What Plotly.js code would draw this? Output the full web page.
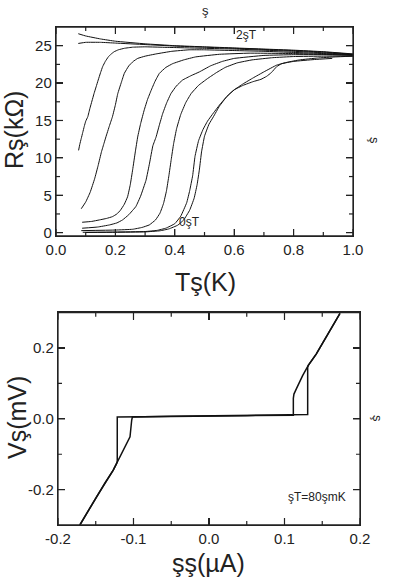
<!DOCTYPE html>
<html>
<head>
<meta charset="utf-8">
<script src="https://cdn.plot.ly/plotly-3.0.1.min.js"></script>
<style>html,body{margin:0;padding:0;background:#fff;overflow:hidden}#top{width:395px;height:300px}#bot{width:395px;height:286px}</style>
</head>
<body>
<div id="top"></div>
<div id="bot"></div>
<script>
// ---- Top panel: R(T) curves at several fields (top = 2 T, rightmost = 0 T) ----
const T_A = [0.075,0.1,0.15,0.2,0.3,0.4,0.5,0.6,0.7,0.8,0.9,1.0];
const R_A = [26.6,26.3,25.9,25.6,25.25,25.0,24.85,24.7,24.55,24.4,24.2,23.9];
const T_B = [0.075,0.1,0.15,0.2,0.3,0.4,0.5,0.6,0.7,0.8,0.9,1.0];
const R_B = [25.3,25.45,25.45,25.35,25.15,24.95,24.8,24.65,24.5,24.35,24.15,23.85];
const T_C = [0.076,0.08,0.085,0.09,0.095,0.1,0.107,0.114,0.121,0.128,0.135,0.142,0.15,0.157,0.166,0.176,0.186,0.196,0.21,0.23,0.258,0.3,0.35,0.4,0.5,0.6,0.7,0.8,0.9,1.0];
const R_C = [11.0,11.8,12.6,13.4,14.2,14.9,15.5,16.6,17.6,18.6,19.5,20.4,21.4,22.2,22.9,23.5,23.9,24.2,24.45,24.65,24.8,24.85,24.8,24.75,24.65,24.55,24.4,24.25,24.05,23.8];
const T_D = [0.085,0.1,0.115,0.13,0.142,0.153,0.162,0.168,0.18,0.19,0.2,0.208,0.22,0.23,0.245,0.26,0.275,0.3,0.337,0.39,0.448,0.5,0.6,0.7,0.8,0.9,1.0];
const R_D = [3.2,4.1,5.4,7.2,9.0,10.8,12.0,12.8,14.3,15.5,17.1,18.6,20.1,21.3,22.3,22.9,23.3,23.6,23.9,24.25,24.45,24.45,24.35,24.25,24.1,23.95,23.8];
const T_E = [0.088,0.12,0.146,0.17,0.19,0.205,0.217,0.23,0.241,0.25,0.258,0.267,0.275,0.285,0.297,0.308,0.32,0.333,0.348,0.37,0.393,0.43,0.47,0.55,0.65,0.8,0.9,1.0];
const R_E = [1.39,1.5,1.7,1.9,2.14,2.5,3.0,3.8,4.8,6.4,8.4,10.8,12.8,14.6,16.4,17.8,19.0,20.2,21.3,22.1,22.6,23.1,23.5,23.85,24.0,23.95,23.85,23.75];
const T_F = [0.088,0.14,0.18,0.205,0.224,0.245,0.269,0.285,0.303,0.315,0.326,0.337,0.348,0.359,0.372,0.387,0.405,0.426,0.455,0.483,0.52,0.56,0.6,0.7,0.8,0.9,1.0];
const R_F = [0.59,0.75,1.03,1.3,1.7,2.4,3.5,4.9,7.0,9.3,11.6,12.8,14.4,15.9,17.3,18.6,19.6,20.4,21.0,21.5,22.3,22.9,23.3,23.7,23.8,23.8,23.7];
const T_G = [0.085,0.2,0.258,0.29,0.314,0.335,0.35,0.362,0.372,0.38,0.388,0.396,0.406,0.42,0.437,0.455,0.48,0.51,0.54,0.57,0.61,0.66,0.73,0.8,0.9,1.0];
const R_G = [0.27,0.35,0.45,0.7,1.03,1.7,2.6,3.9,5.6,7.6,9.8,11.9,13.9,15.8,17.4,18.6,19.7,20.6,21.4,22.1,22.7,23.1,23.4,23.55,23.6,23.6];
const T_H = [0.09,0.2,0.3,0.34,0.37,0.4,0.42,0.44,0.45,0.46,0.468,0.48,0.495,0.51,0.53,0.555,0.58,0.6,0.63,0.664,0.69,0.709,0.725,0.743,0.76,0.8,0.87,0.93];
const R_H = [0.05,0.08,0.15,0.3,0.6,1.2,2.2,4.0,5.6,7.6,10.2,12.3,13.8,14.9,16.0,17.3,18.4,19.1,19.7,20.2,20.5,20.9,21.4,22.2,22.6,22.9,23.15,23.3];
const T_I = [0.1,0.2,0.3,0.35,0.38,0.41,0.43,0.45,0.465,0.475,0.483,0.49,0.5,0.515,0.53,0.55,0.575,0.6,0.63,0.664,0.7,0.743,0.78,0.82,0.88,0.94,1.0];
const R_I = [0.02,0.05,0.1,0.25,0.5,1.0,1.7,3.0,4.6,6.4,8.5,10.8,12.9,14.5,15.5,16.9,18.2,19.1,19.9,20.7,21.5,22.4,22.8,23.1,23.35,23.5,23.6];

// ---- Bottom panel: V(I) at T = 80 mK ----
const I_up = [-0.171,-0.16,-0.1487,-0.138,-0.1268,-0.1223,-0.1135,-0.1046,-0.1024,-0.1015,-0.05,0.0,0.05,0.1,0.1307,0.1307,0.1315,0.142,0.1514,0.162,0.1735];
const V_up = [-0.3,-0.26,-0.22,-0.182,-0.145,-0.126,-0.093,-0.051,-0.004,0.005,0.007,0.008,0.009,0.011,0.012,0.146,0.151,0.183,0.217,0.255,0.298];
const I_down = [0.1735,0.162,0.1514,0.142,0.1315,0.124,0.116,0.1125,0.1117,0.1117,0.05,0.0,-0.05,-0.1,-0.1215,-0.1215,-0.1223,-0.1268,-0.138,-0.1487,-0.16,-0.171];
const V_down = [0.298,0.255,0.217,0.183,0.151,0.122,0.086,0.07,0.058,0.01,0.009,0.008,0.007,0.006,0.005,-0.12,-0.126,-0.145,-0.182,-0.22,-0.26,-0.3];

// tick positions and labels (hyphen minus as in the original)
const xTicksTop = [0,0.2,0.4,0.6,0.8,1.0];
const xTickTextTop = ['0.0','0.2','0.4','0.6','0.8','1.0'];
const xMinorTop = [0.1,0.3,0.5,0.7,0.9];
const yTicksTop = [0,5,10,15,20,25];
const yTickTextTop = ['0','5','10','15','20','25'];
const yMinorTop = [2.5,7.5,12.5,17.5,22.5];
const xTicksBot = [-0.2,-0.1,0,0.1,0.2];
const xTickTextBot = ['-0.2','-0.1','0.0','0.1','0.2'];
const xMinorBot = [-0.15,-0.05,0.05,0.15];
const yTicksBot = [-0.2,0,0.2];
const yTickTextBot = ['-0.2','0.0','0.2'];
const yMinorBot = [-0.1,0.1];

const topCurves = [[T_A,R_A],[T_B,R_B],[T_C,R_C],[T_D,R_D],[T_E,R_E],[T_F,R_F],[T_G,R_G],[T_H,R_H],[T_I,R_I]];

const FONT = 'Liberation Sans, Arial, Helvetica, sans-serif';
const INK = '#222';
const small = {family:FONT, size:12, color:INK};
const big = {family:FONT, size:25, color:INK};
const tiny = {family:FONT, size:13, color:INK};

function ax(extra){
  return Object.assign({
    showgrid:false, zeroline:false, showline:true, linecolor:INK, linewidth:1.2, mirror:'ticks',
    ticks:'inside', ticklen:7, tickwidth:1.2, tickcolor:INK,
    tickfont:{family:FONT, size:15, color:INK}
  }, extra);
}

// Box frame and inward tick marks on all four sides, derived from axis ranges,
// domains and tick arrays (axis decoration, converted from pixels to axis units)
function decorTraces(xr, yr, xd, yd, W, H, xMaj, xMin, yMaj, yMin){
  const ux = (xr[1]-xr[0]) / ((xd[1]-xd[0]) * W);   // axis units per pixel (x)
  const uy = (yr[1]-yr[0]) / ((yd[1]-yd[0]) * H);   // axis units per pixel (y)
  const fx = [], fy = [];
  const addX = (vals, len) => vals.forEach(v => {
    fx.push(v, v, null, v, v, null);
    fy.push(yr[0], yr[0] + len*uy, null, yr[1], yr[1] - len*uy, null);
  });
  const addY = (vals, len) => vals.forEach(v => {
    fx.push(xr[0], xr[0] + len*ux, null, xr[1], xr[1] - len*ux, null);
    fy.push(v, v, null, v, v, null);
  });
  addX(xMaj, 7); addX(xMin, 4); addY(yMaj, 7); addY(yMin, 4);
  const common = {type:'scatter', mode:'lines', hoverinfo:'skip', showlegend:false, cliponaxis:false};
  return [
    Object.assign({x:[xr[0],xr[1],xr[1],xr[0],xr[0]], y:[yr[0],yr[0],yr[1],yr[1],yr[0]], line:{color:INK, width:1.3}}, common),
    Object.assign({x:fx, y:fy, connectgaps:false, line:{color:INK, width:1.2}}, common)
  ];
}

const cfg = {staticPlot:true, displayModeBar:false};
const W = 395;

// ---------- top figure (395 x 300) ----------
const H1 = 300;
const domTop = {x:[0.1418,0.8937], y:[0.2133,0.91]};
const rangeTop = {x:[0,1], y:[-0.45,27.5]};
const topTraces = topCurves.map(c => ({x:c[0], y:c[1], type:'scatter', mode:'lines', line:{color:'#111', width:1, shape:'spline', smoothing:0.3}}))
  .concat(decorTraces(rangeTop.x, rangeTop.y, domTop.x, domTop.y, W, H1, xTicksTop, xMinorTop, yTicksTop, yMinorTop));
const topLayout = {
  width:W, height:H1, margin:{l:0,r:0,t:0,b:0}, showlegend:false,
  paper_bgcolor:'#fff', plot_bgcolor:'#fff',
  xaxis: ax({domain:domTop.x, range:rangeTop.x, tickvals:xTicksTop, ticktext:xTickTextTop}),
  yaxis: ax({domain:domTop.y, range:rangeTop.y, tickvals:yTicksTop, ticktext:yTickTextTop}),
  annotations: [
    {xref:'paper', yref:'paper', x:205/W, y:1-282/H1, xanchor:'center', yanchor:'middle', text:'Tş(K)', showarrow:false, font:big},
    {xref:'paper', yref:'paper', x:14/W, y:1-130/H1, xanchor:'center', yanchor:'middle', text:'Rş(kΩ)', textangle:-90, showarrow:false, font:big},
    {xref:'x', yref:'y', x:0.64, y:26.4, xanchor:'center', yanchor:'middle', text:'2şT', showarrow:false, font:small},
    {xref:'x', yref:'y', x:0.45, y:1.4, xanchor:'center', yanchor:'middle', text:'0şT', showarrow:false, font:small},
    {xref:'paper', yref:'paper', x:205/W, y:1-11/H1, xanchor:'center', yanchor:'middle', text:'ş', showarrow:false, font:tiny},
    {xref:'paper', yref:'paper', x:375/W, y:1-140/H1, xanchor:'center', yanchor:'middle', text:'ş', textangle:90, showarrow:false, font:tiny}
  ]
};

// ---------- bottom figure (395 x 286) ----------
const H2 = 286;
const domBot = {x:[0.1468,0.9114], y:[0.2133,0.9556]};
const rangeBot = {x:[-0.2,0.2], y:[-0.3,0.3]};
const botTraces = [
  {x:I_up, y:V_up, type:'scatter', mode:'lines', line:{color:'#111', width:1.5}},
  {x:I_down, y:V_down, type:'scatter', mode:'lines', line:{color:'#111', width:1.5}}
].concat(decorTraces(rangeBot.x, rangeBot.y, domBot.x, domBot.y, W, H2, xTicksBot, xMinorBot, yTicksBot, yMinorBot));
const botLayout = {
  width:W, height:H2, margin:{l:0,r:0,t:0,b:0}, showlegend:false,
  paper_bgcolor:'#fff', plot_bgcolor:'#fff',
  xaxis: ax({domain:domBot.x, range:rangeBot.x, tickvals:xTicksBot, ticktext:xTickTextBot}),
  yaxis: ax({domain:domBot.y, range:rangeBot.y, tickvals:yTicksBot, ticktext:yTickTextBot}),
  annotations: [
    {xref:'paper', yref:'paper', x:208/W, y:1-263/H2, xanchor:'center', yanchor:'middle', text:'şş(µA)', showarrow:false, font:big},
    {xref:'paper', yref:'paper', x:17/W, y:1-118/H2, xanchor:'center', yanchor:'middle', text:'Vş(mV)', textangle:-90, showarrow:false, font:big},
    {xref:'x', yref:'y', x:0.143, y:-0.22, xanchor:'center', yanchor:'middle', text:'şT=80şmK', showarrow:false, font:small},
    {xref:'paper', yref:'paper', x:378/W, y:1-118/H2, xanchor:'center', yanchor:'middle', text:'ş', textangle:90, showarrow:false, font:tiny}
  ]
};

Plotly.newPlot('top', topTraces, topLayout, cfg);
Plotly.newPlot('bot', botTraces, botLayout, cfg);
</script>
</body>
</html>
